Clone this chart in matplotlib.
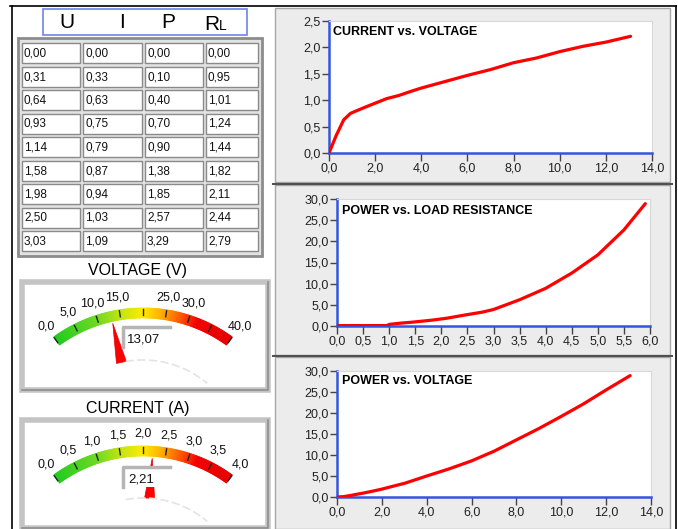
import numpy as np
import matplotlib
matplotlib.use("Agg")
import matplotlib.pyplot as plt
from matplotlib.patches import Rectangle, Polygon
from matplotlib.colors import LinearSegmentedColormap
from matplotlib.ticker import FuncFormatter

plt.rcParams['font.family'] = ['Liberation Sans', 'DejaVu Sans']

W, H = 678, 529

# ---------------- dados da tabela ----------------
tab_u = [0.00, 0.31, 0.64, 0.93, 1.14, 1.58, 1.98, 2.50, 3.03]
tab_i = [0.00, 0.33, 0.63, 0.75, 0.79, 0.87, 0.94, 1.03, 1.09]
tab_p = [0.00, 0.10, 0.40, 0.70, 0.90, 1.38, 1.85, 2.57, 3.29]
tab_r = [0.00, 0.95, 1.01, 1.24, 1.44, 1.82, 2.11, 2.44, 2.79]

# ---------------- curvas ----------------
iv_u = [0, 0.31, 0.64, 0.93, 1.14, 1.58, 1.98, 2.50, 3.03, 3.5, 4.0, 5.0, 6.0,
        7.0, 8.0, 9.0, 10.0, 11.0, 12.0, 13.07]
iv_i = [0, 0.33, 0.63, 0.75, 0.79, 0.87, 0.94, 1.03, 1.09, 1.16, 1.23, 1.35, 1.47,
        1.58, 1.71, 1.80, 1.92, 2.02, 2.10, 2.21]

pr_r = [0, 0.5, 0.95, 1.01, 1.24, 1.44, 1.82, 2.11, 2.44, 2.79, 3.0, 3.5, 4.0, 4.5,
        5.0, 5.5, 5.91]
pr_p = [0.1, 0.1, 0.10, 0.40, 0.70, 0.90, 1.38, 1.85, 2.57, 3.29, 3.9, 6.2, 8.9, 12.5,
        16.8, 22.7, 28.9]

pu_u = [0, 0.31, 0.64, 0.93, 1.14, 1.58, 1.98, 2.50, 3.03, 4.0, 5.0, 6.0, 7.0,
        8.0, 9.0, 10.0, 11.0, 12.0, 13.07]
pu_p = [0, 0.10, 0.40, 0.70, 0.90, 1.38, 1.85, 2.57, 3.29, 5.0, 6.7, 8.6, 10.9,
        13.6, 16.3, 19.2, 22.2, 25.5, 28.9]

# ---------------- mostradores ----------------
volt_val = 13.07
volt_max = 40.0
volt_ticks = [0, 5, 10, 15, 20, 25, 30, 35, 40]
volt_lbls = [0, 5, 10, 15, 25, 30, 40]

curr_val = 2.21
curr_max = 4.0
curr_ticks = [0, 0.5, 1.0, 1.5, 2.0, 2.5, 3.0, 3.5, 4.0]
curr_lbls = [0, 0.5, 1.0, 1.5, 2.0, 2.5, 3.0, 3.5, 4.0]


def virg(v, fmt="{:.1f}"):
    return fmt.format(v).replace('.', ',')


def px_box(x0, y0, x1, y1):
    return [x0 / W, 1 - y1 / H, (x1 - x0) / W, (y1 - y0) / H]


fig = plt.figure(figsize=(W / 100, H / 100), dpi=100)
bg = fig.add_axes([0, 0, 1, 1])
bg.set_xlim(0, W)
bg.set_ylim(H, 0)
bg.axis('off')

# moldura externa
bg.plot([10, 676], [6, 6], color='black', lw=1.2)
bg.plot([12, 12], [6, H], color='black', lw=1.2)
bg.plot([676, 676], [6, H], color='black', lw=1.2)

# ---------------- tabela ----------------
bg.add_patch(Rectangle((43, 9), 204, 26, fc='white', ec='#6F84E6', lw=1.2))
bg.text(67, 23, 'U', fontsize=15, ha='center', va='center')
bg.text(122, 23, 'I', fontsize=15, ha='center', va='center')
bg.text(168, 23, 'P', fontsize=15, ha='center', va='center')
bg.text(204, 29.5, 'R', fontsize=15, ha='left', va='baseline')
bg.text(219, 30.5, 'L', fontsize=10, ha='left', va='baseline')

bg.add_patch(Rectangle((18, 38), 244, 218, fc='#E2E2E2', ec='#8C8C8C', lw=2.0))
col_x = [(22, 80), (83, 142), (145, 203), (206, 258)]
cols = [tab_u, tab_i, tab_p, tab_r]
for r in range(len(tab_u)):
    y0 = 43 + r * 23.5
    for c, (xa, xb) in enumerate(col_x):
        bg.add_patch(Rectangle((xa, y0), xb - xa, 20, fc='white', ec='#8A8A8A', lw=1.0))
        bg.text(xa + 2, y0 + 10.5, virg(cols[c][r], "{:.2f}"), fontsize=8.5,
                ha='left', va='center', color='#111111')

# ---------------- mostradores ----------------
cmap = LinearSegmentedColormap.from_list('gauge', [
    (0.0, '#1ECB1E'), (0.25, '#6FD922'), (0.38, '#C2E412'), (0.5, '#FFEA00'),
    (0.6, '#FFB000'), (0.72, '#FF4A00'), (0.8, '#F20000'), (1.0, '#E60000')])


def pt(cx, cy, r, a):
    return cx + r * np.cos(np.radians(a)), cy - r * np.sin(np.radians(a))


def draw_gauge(top, title, val, vmax, ticks, lbls, box_y, txt_x):
    cx, cy = 143, top + 152
    r_out, band = 152, 10
    a0, a1 = 126.0, 54.0
    bg.text(138, top - 38, title, fontsize=11.5, ha='center', va='center')
    bg.add_patch(Rectangle((22, top - 26), 246, 108, fc='white', ec='#C4C4C4', lw=4))
    bg.plot([22, 268, 268], [top + 82, top + 82, top - 26], color='#8E8E8E', lw=1.2)

    n = 140
    for k in range(n):
        f0, f1 = k / n, (k + 1) / n
        b0 = a0 + (a1 - a0) * f0
        b1 = a0 + (a1 - a0) * f1
        poly = [pt(cx, cy, r_out, b0), pt(cx, cy, r_out, b1),
                pt(cx, cy, r_out - band, b1), pt(cx, cy, r_out - band, b0)]
        col = cmap((f0 + f1) / 2)
        bg.add_patch(Polygon(poly, closed=True, fc=col, ec=col, lw=0.6))

    for t in ticks:
        a = a0 + (a1 - a0) * t / vmax
        p1 = pt(cx, cy, r_out - 7, a)
        p2 = pt(cx, cy, r_out - 1, a)
        bg.plot([p1[0], p2[0]], [p1[1], p2[1]], color='#222222', lw=1.0)
    for t in lbls:
        a = a0 + (a1 - a0) * t / vmax
        x, y = pt(cx, cy, 165, a)
        bg.text(x, y, virg(t), fontsize=9, ha='center', va='center', color='#111111')

    # arco cinza do eixo do ponteiro
    aa = np.linspace(100, 50, 60)
    hx = cx + 100 * np.cos(np.radians(aa))
    hy = cy - 100 * np.sin(np.radians(aa))
    bg.plot(hx, hy, color='#E4E4E4', lw=1.2, ls=(0, (5, 2)))

    # ponteiro
    a = a0 + (a1 - a0) * val / vmax
    ra = np.radians(a)
    px, py = -np.sin(ra), -np.cos(ra)
    bx, by = pt(cx, cy, 100, a)
    tip = pt(cx, cy, 140, a)
    needle = [(bx + 5 * px, by + 5 * py), tip, (bx - 5 * px, by - 5 * py)]
    bg.add_patch(Polygon(needle, closed=True, fc='#FF0000', ec='#E00000', lw=0.5))

    # display digital
    bg.add_patch(Rectangle((123, box_y), 47, 20, fc='white', ec='none'))
    bg.plot([123, 123, 170], [box_y + 20, box_y, box_y], color='#B5B5B5', lw=2.5)
    bg.text(txt_x, box_y + 12, virg(val, "{:.2f}"), fontsize=9.5, ha='left',
            va='center', color='#111111')


draw_gauge(308, 'VOLTAGE (V)', volt_val, volt_max, volt_ticks, volt_lbls, 327, 127)
draw_gauge(446, 'CURRENT (A)', curr_val, curr_max, curr_ticks, curr_lbls, 467, 128)

# ---------------- paineis dos graficos ----------------
for (y0, y1) in [(8, 182), (185, 355), (357, 529)]:
    bg.add_patch(Rectangle((275, y0), 395, y1 - y0, fc='#ECECEC', ec='#A8A8A8', lw=1.0))
bg.plot([273, 672], [183.5, 183.5], color='#505050', lw=1.5)
bg.plot([273, 672], [356, 356], color='#505050', lw=1.5)

blue = '#3355E0'


def make_plot(box, xs, ys, xmax, xstep, ymax, ystep, title, toff):
    ax = fig.add_axes(px_box(*box))
    ax.set_facecolor('white')
    ax.plot(xs, ys, color='#FF0000', lw=2.3, solid_capstyle='round',
            solid_joinstyle='round', zorder=3)
    ax.set_xlim(0, xmax)
    ax.set_ylim(0, ymax)
    ax.set_xticks(np.arange(0, xmax + xstep / 2, xstep))
    ax.set_yticks(np.arange(0, ymax + ystep / 2, ystep))
    ax.xaxis.set_major_formatter(FuncFormatter(lambda v, p: virg(v)))
    ax.yaxis.set_major_formatter(FuncFormatter(lambda v, p: virg(v)))
    ax.tick_params(axis='both', direction='out', labelsize=9, labelcolor='#222222',
                   color='#444444', width=1.0)
    ax.tick_params(axis='x', length=6, pad=1)
    ax.tick_params(axis='y', length=5, pad=1)
    for s in ['left', 'bottom']:
        ax.spines[s].set_color(blue)
        ax.spines[s].set_linewidth(1.8)
    for s in ['top', 'right']:
        ax.spines[s].set_color('#D8D8D8')
        ax.spines[s].set_linewidth(0.8)
    ax.annotate(title, xy=(0, 1), xycoords='axes fraction', xytext=toff,
                textcoords='offset pixels', fontsize=9, fontweight='bold',
                ha='left', va='center')
    return ax


make_plot((329, 21, 652, 153), iv_u, iv_i, 14, 2, 2.5, 0.5,
          'CURRENT vs. VOLTAGE', (4, -11))
make_plot((337, 199, 650, 326), pr_r, pr_p, 6, 0.5, 30, 5,
          'POWER vs. LOAD RESISTANCE', (5, -12))
make_plot((337, 371, 651, 497), pu_u, pu_p, 14, 2, 30, 5,
          'POWER vs. VOLTAGE', (5, -10))

plt.savefig('out.png', dpi=100)
